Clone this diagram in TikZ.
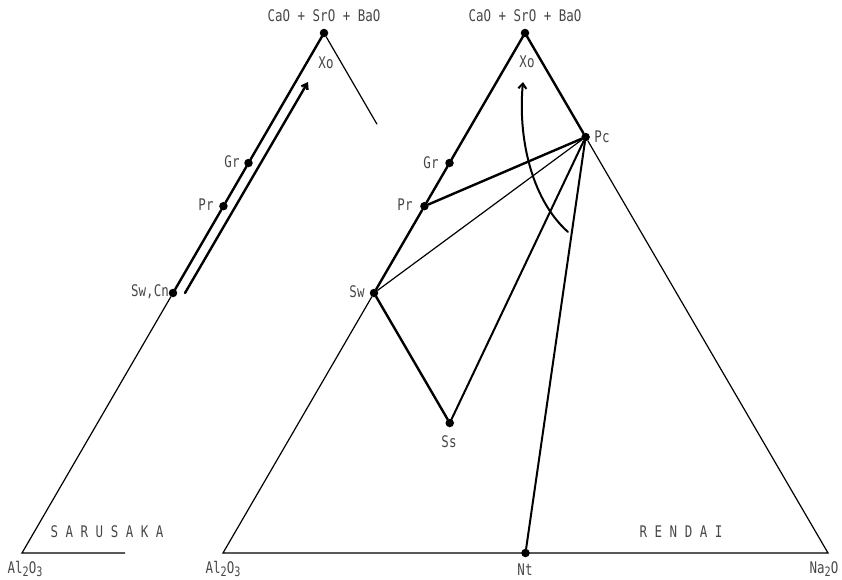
\documentclass[tikz,border=0pt]{standalone}
\usepackage{fontspec}
\setmonofont{DejaVu Sans Mono}[FakeStretch=0.78]
\usetikzlibrary{arrows.meta}

\newcommand{\lowidx}[1]{\raisebox{-0.15em}{\fontsize{13}{13}\selectfont #1}}

\tikzset{
  pt/.style={circle, fill, inner sep=0pt, minimum size=8.5pt},
  tie/.style={line width=2.4pt},
  bond/.style={line width=2pt},
  edge/.style={line width=1.2pt},
  tag/.style={text=black!72},
}

\begin{document}
\begin{tikzpicture}[x=1pt, y=-1pt, line cap=round,
    font=\ttfamily\fontsize{16}{16}\selectfont]
  \useasboundingbox (0,0) rectangle (842,579);

  % Sarusaka
  \coordinate (la) at (22,553);
  \coordinate (ln) at (626,553);
  \node (lxo) [pt] at (324,33) {};
  \node (lgr) [pt] at (barycentric cs:lxo=0.75,la=0.25) {};
  \node (lpr) [pt] at (barycentric cs:lxo=0.667,la=0.333) {};
  \node (lsw) [pt] at (barycentric cs:lxo=0.5,la=0.5) {};
  \coordinate (lbase) at (barycentric cs:la=0.83,ln=0.17);
  \coordinate (lside) at (barycentric cs:lxo=0.825,ln=0.175);
  \coordinate (lfrom) at (185,293);
  \coordinate (lto) at (308,82);

  \draw[tie] (lxo) -- (lgr) -- (lpr) -- (lsw);
  \draw[edge] (lsw) -- (la) -- (lbase);
  \draw[edge] (lxo) -- (lside);
  \draw[tie, -{Straight Barb[length=5pt,width=7pt]}] (lfrom) -- (lto);

  \node (lt0) [tag] at (324,16) {CaO + SrO + BaO};
  \node (lt1) [tag] at (326,63) {Xo};
  \node (lt2) [tag] at (232,162) {Gr};
  \node (lt3) [tag] at (206,205) {Pr};
  \node (lt4) [tag] at (150,292) {Sw,Cn};
  \node (lt5) [tag] at (25,569) {Al\lowidx{2}O\lowidx{3}};
  \node (lt6) [tag] at (107,532) {S A R U S A K A};

  % Rendai
  \coordinate (ra) at (223,553);
  \coordinate (rn) at (828,553);
  \node (rxo) [pt] at (525,33) {};
  \node (rgr) [pt] at (barycentric cs:rxo=0.75,ra=0.25) {};
  \node (rpr) [pt] at (barycentric cs:rxo=0.667,ra=0.333) {};
  \node (rsw) [pt] at (barycentric cs:rxo=0.5,ra=0.5) {};
  \node (rpc) [pt] at (barycentric cs:rxo=0.8,rn=0.2) {};
  \node (rss) [pt] at (barycentric cs:rxo=0.25,ra=0.5,rn=0.25) {};
  \node (rnt) [pt] at (barycentric cs:ra=0.5,rn=0.5) {};
  \coordinate (rfrom) at (568,232);
  \coordinate (rto) at (523,82);

  \draw[edge] (rsw) -- (ra) -- (rn) -- (rpc);
  \draw[tie] (rpc) -- (rxo) -- (rgr) -- (rpr) -- (rsw);
  \draw[tie] (rpr) -- (rpc);
  \draw[edge] (rsw) -- (rpc);
  \draw[tie] (rsw) -- (rss);
  \draw[bond] (rss) -- (rpc);
  \draw[bond] (rpc) -- (rnt);
  \draw[bond, -{Straight Barb[length=5pt,width=8pt]}] (rfrom)
    .. controls (530,198) and (518,135) .. (rto);

  \node (rt0) [tag] at (525,16) {CaO + SrO + BaO};
  \node (rt1) [tag] at (527,62) {Xo};
  \node (rt2) [tag] at (431,163) {Gr};
  \node (rt3) [tag] at (405,205) {Pr};
  \node (rt4) [tag] at (357,292) {Sw};
  \node (rt5) [tag] at (602,137) {Pc};
  \node (rt6) [tag] at (449,442) {Ss};
  \node (rt7) [tag] at (525,570) {Nt};
  \node (rt8) [tag] at (223,569) {Al\lowidx{2}O\lowidx{3}};
  \node (rt9) [tag] at (824,569) {Na\lowidx{2}O};
  \node (rt10) [tag] at (681,532) {R E N D A I};
\end{tikzpicture}
\end{document}
